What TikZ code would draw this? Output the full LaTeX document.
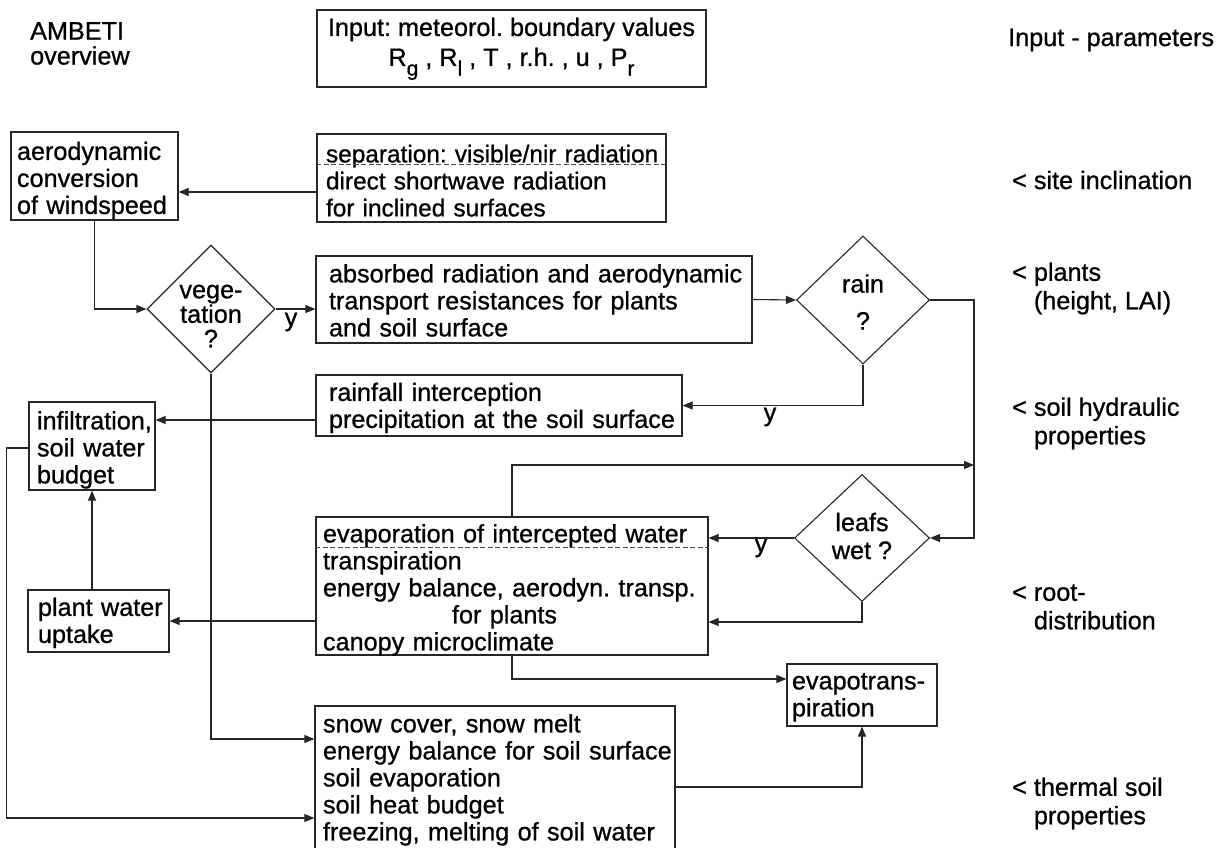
\documentclass[tikz,border=0pt]{standalone}
\usepackage{fontspec}
\setmainfont{Liberation Sans}[FakeBold=0.8]
\usetikzlibrary{shapes.geometric,arrows.meta}
\frenchspacing
\newcommand\sbs[1]{\raisebox{-0.38em}{\fontsize{21}{21}\selectfont #1}}
\newcommand\lns[2][4pt]{\raisebox{-#1}[\height][\depth]{\begin{tabular}{@{}l@{}}#2\end{tabular}}}
\begin{document}
\begin{tikzpicture}[x=1pt,y=-1pt,
  every node/.style={font=\fontsize{25.2}{27}\selectfont\frenchspacing, text=black},
  box/.style={draw=black!85, line width=1.2pt, inner ysep=0pt, align=left, anchor=center},
  dia/.style={diamond, draw=black!85, line width=1.1pt, inner sep=0pt},
  arr/.style={draw=black!85, line width=1.1pt, -{Triangle[length=10pt,width=8pt]}},
  ln/.style={draw=black!85, line width=1.1pt},
  dsh/.style={draw=black!70, line width=0.8pt, dash pattern=on 5pt off 2.5pt},
  lbl/.style={anchor=west, align=left, inner sep=0pt, font=\fontsize{25.2}{28.5}\selectfont},
  dtext/.style={align=center, inner sep=0pt},
]
\useasboundingbox (0,0) rectangle (1219,848);

% title and side labels
\node[lbl, anchor=north west, font=\fontsize{25.2}{25}\selectfont] (title) at (30,22) {AMBETI\\overview};
\node[lbl] (pin) at (1008,40) {Input - parameters};
\node[lbl] (p1) at (1012,180) {< site inclination};
\node[lbl] (p2) at (1012,288.5) {< plants\\\hphantom{<}~(height, LAI)};
\node[lbl] (p3) at (1012,423.5) {< soil hydraulic\\\hphantom{<}~properties};
\node[lbl] (p4) at (1012,607) {< root-\\\hphantom{<}~distribution};
\node[lbl] (p5) at (1012,803.5) {< thermal soil\\\hphantom{<}~properties};

% boxes
\node[box, minimum width=389pt, minimum height=77pt, inner xsep=0pt] (inp) at (511.5,48.5)
  {\begin{tabular}{@{}c@{}}Input: meteorol. boundary values\\[3pt]R\sbs{g} , R\sbs{l} , T , r.h. , u , P\sbs{r}\end{tabular}};
\node[box, minimum width=167pt, minimum height=88pt, text width=155pt, inner xsep=6pt] (aero) at (94.5,176)
  {\lns[5.5pt]{aerodynamic\\conversion\\of windspeed}};
\node[box, minimum width=349pt, minimum height=88pt, text width=331pt, inner xsep=9pt,
      font=\fontsize{24.4}{27}\selectfont\frenchspacing] (sep) at (491.5,178)
  {\lns[6pt]{separation: visible/nir radiation\\direct shortwave radiation\\for inclined surfaces}};
\node[box, minimum width=436pt, minimum height=87pt, text width=410pt, inner xsep=13pt] (abs) at (534,299.5)
  {\lns[4.5pt]{absorbed radiation and aerodynamic\\transport resistances for plants\\and soil surface}};
\node[box, minimum width=366pt, minimum height=61pt, text width=340pt, inner xsep=13pt] (rainf) at (499,405.5)
  {\lns[3.5pt]{rainfall interception\\precipitation at the soil surface}};
\node[box, minimum width=126pt, minimum height=88pt, text width=110pt, inner xsep=8pt] (infil) at (92,446)
  {\lns[5pt]{infiltration,\\soil water\\budget}};
\node[box, minimum width=392pt, minimum height=138pt, text width=378pt, inner xsep=7pt] (evap) at (512,586)
  {\lns[5pt]{evaporation of intercepted water\\transpiration\\energy balance, aerodyn. transp.\\\hspace*{129pt}for plants\\canopy microclimate}};
\node[box, minimum width=141pt, minimum height=62pt, text width=121pt, inner xsep=10pt] (plant) at (98.5,621)
  {\lns[3pt]{plant water\\uptake}};
\node[box, minimum width=150pt, minimum height=62pt, text width=140pt, inner xsep=5pt] (evapo) at (862,695)
  {\lns[2.5pt]{evapotrans-\\piration}};
\node[box, minimum width=360pt, minimum height=146pt, text width=344pt, inner xsep=8pt] (snow) at (495,779)
  {\lns[2pt]{snow cover, snow melt\\energy balance for soil surface\\soil evaporation\\soil heat budget\\freezing, melting of soil water}};

% dashed separators
\draw[dsh] (sep.west |- 0,164.5) -- (sep.east |- 0,164.5);
\draw[dsh] (evap.west |- 0,547.5) -- (evap.east |- 0,547.5);

% diamonds
\node[dia, minimum width=128pt, minimum height=128pt] (veg) at (211,309) {};
\node[dtext, font=\fontsize{25.2}{24.5}\selectfont] (vegT) at (211,316) {vege-\\tation\\?};
\node[dia, minimum width=133pt, minimum height=128pt] (rain) at (863,300) {};
\node[dtext] (rainT) at (863,302) {rain\\[10pt]?};
\node[dia, minimum width=135pt, minimum height=127pt] (leafs) at (862,538) {};
\node[dtext, font=\fontsize{25.2}{28}\selectfont] (leafsT) at (862,536) {leafs\\wet ?};

% y labels
\node[inner sep=0pt] (y1) at (291,322) {y};
\node[inner sep=0pt] (y2) at (770,417) {y};
\node[inner sep=0pt] (y3) at (761,548) {y};

% connectors
\coordinate (bus) at (974,465);
\draw[arr] (sep.west |- 0,192) -- (aero.east |- 0,192);
\draw[arr] (aero.south) |- (veg.west);
\draw[arr] (veg.east) -- (veg.east -| abs.west);
\draw[arr] (abs.east) -- (rain.west);
\draw[arr] (rain.east) -| (bus) |- (leafs.east);
\draw[arr] (evap.north) |- (bus);
\draw[arr] (rain.south) |- (rainf.east);
\draw[arr] (rainf.west |- 0,420) -- (infil.east |- 0,420);
\draw[arr] (veg.south) |- (snow.west |- 0,739);
\draw[arr] (leafs.west) -- (leafs.west -| evap.east);
\draw[arr] (leafs.south) |- (evap.east |- 0,622);
\draw[arr] (evap.west |- plant.east) -- (plant.east);
\draw[arr] (plant.north -| infil.south) -- (infil.south);
\draw[arr] (evap.south) |- (evapo.west |- 0,679);
\draw[arr] (snow.east |- 0,787) -| (evapo.south);
\draw[arr] (infil.west |- 0,448) -- ++(-22,0) |- (snow.west |- 0,818);
\end{tikzpicture}
\end{document}
